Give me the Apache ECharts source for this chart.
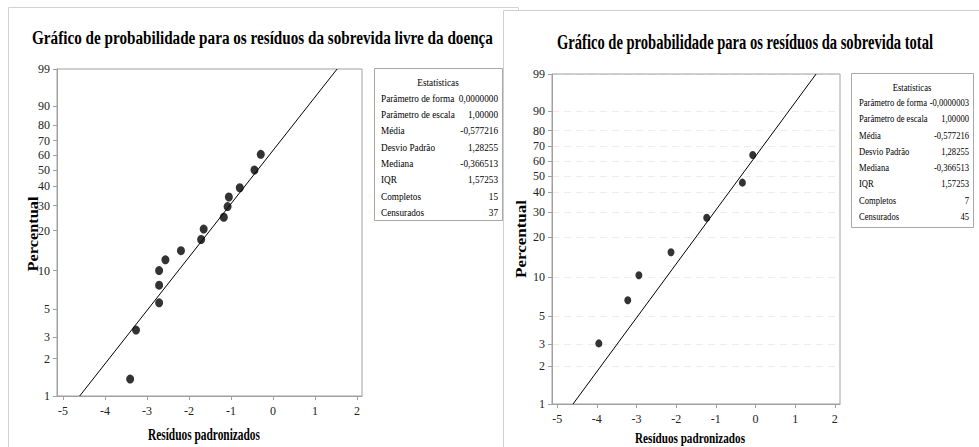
<!DOCTYPE html>
<html>
<head>
<meta charset="utf-8">
<script src="https://cdn.jsdelivr.net/npm/echarts@6/dist/echarts.min.js"></script>
<style>
  html, body { margin: 0; padding: 0; background: #ffffff; }
  #chart { width: 979px; height: 447px; }
</style>
</head>
<body>
<div id="chart"></div>
<script>
// Standardized residuals and their plotting positions (percent), disease-free survival
var dfsResiduals = [-3.40, -3.26, -2.71, -2.71, -2.71, -2.56, -2.19, -1.71, -1.65, -1.17, -1.08, -1.05, -0.79, -0.44, -0.29];
var dfsPercent   = [1.37, 3.4, 5.6, 7.7, 10.0, 12.1, 14.2, 17.2, 20.5, 24.9, 29.5, 34.2, 39.2, 50.0, 60.6];

// Standardized residuals and plotting positions (percent), overall survival
var osResiduals = [-3.95, -3.22, -2.94, -2.13, -1.23, -0.33, -0.07];
var osPercent   = [3.05, 6.66, 10.4, 15.5, 27.3, 45.8, 64.1];

// Probability-scale tick labels (percent) and residual axis ticks
var percentTicks = [1, 2, 3, 5, 10, 20, 30, 40, 50, 60, 70, 80, 90, 99];
var residualTicks = [-5, -4, -3, -2, -1, 0, 1, 2];

// Reference distribution: smallest extreme value, location 0, scale 1
var fitLocation = 0;
var fitScale = 1;
var fitRangePercent = [1, 99];

// Statistics tables
var statLabels = ['Parâmetro de forma', 'Parâmetro de escala', 'Média', 'Desvio Padrão', 'Mediana', 'IQR', 'Completos', 'Censurados'];
var dfsStatValues = ['0,0000000', '1,00000', '-0,577216', '1,28255', '-0,366513', '1,57253', '15', '37'];
var osStatValues  = ['-0,0000003', '1,00000', '-0,577216', '1,28255', '-0,366513', '1,57253', '7', '45'];

var dfsTitle = 'Gráfico de probabilidade para os resíduos da sobrevida livre da doença';
var osTitle = 'Gráfico de probabilidade para os resíduos da sobrevida total';

// ---- helpers ----
var SERIF = '"Liberation Serif", "Times New Roman", serif';

// probability (percent) -> smallest-extreme-value scale
function sev(pct) { return Math.log(-Math.log(1 - pct / 100)); }

var yMin = sev(fitRangePercent[0]);
var yMax = sev(fitRangePercent[1]);
var yTickValues = percentTicks.map(sev);

function pctLabel(v) {
  var best = 0, bd = Infinity;
  for (var i = 0; i < yTickValues.length; i++) {
    var d = Math.abs(yTickValues[i] - v);
    if (d < bd) { bd = d; best = i; }
  }
  return String(percentTicks[best]);
}

var measureCtx = document.createElement('canvas').getContext('2d');
function textWidth(str, size, bold) {
  measureCtx.font = (bold ? 'bold ' : '') + size + 'px ' + SERIF;
  return measureCtx.measureText(str).width;
}

// text element squeezed horizontally to a given width (the typeface is condensed)
function fitText(str, x, y, size, bold, width, opts) {
  opts = opts || {};
  var sx = width ? width / textWidth(str, size, bold) : (opts.scaleX || 1);
  return {
    type: 'text',
    x: x, y: y,
    rotation: opts.rotation || 0,
    scaleX: sx,
    z: 10,
    style: {
      text: str,
      font: (bold ? 'bold ' : '') + size + 'px ' + SERIF,
      fill: opts.color || '#000000',
      align: opts.align || 'center',
      verticalAlign: 'middle'
    }
  };
}

function pairs(xs, ps) {
  return xs.map(function (x, i) { return [x, sev(ps[i])]; });
}

function fitLine() {
  return fitRangePercent.map(function (p) {
    var t = sev(p);
    return [fitLocation + fitScale * t, t];
  });
}

function statsBox(box, values, labelX, valueX, headerY, rowY, step, size, sx) {
  var els = [{
    type: 'rect', z: 5,
    shape: { x: box[0] + 0.5, y: box[1] + 0.5, width: box[2], height: box[3] },
    style: { fill: '#ffffff', stroke: '#a8a8a8', lineWidth: 1 }
  }];
  els.push(fitText('Estatísticas', box[0] + box[2] / 2, headerY, size, false, null, { scaleX: sx }));
  statLabels.forEach(function (lab, i) {
    var y = rowY + i * step;
    els.push(fitText(lab, labelX, y, size, false, null, { align: 'left', scaleX: sx }));
    els.push(fitText(values[i], valueX, y, size, false, null, { align: 'right', scaleX: sx }));
  });
  return els;
}

var axisGray = '#a0a0a0';

function xAxisCfg(gridIndex, min, max, margin) {
  return {
    gridIndex: gridIndex, type: 'value', min: min, max: max,
    axisLine: { show: true, onZero: false, lineStyle: { color: axisGray, width: 1 } },
    axisTick: { show: true, inside: false, length: 4, customValues: residualTicks, lineStyle: { color: axisGray } },
    axisLabel: { customValues: residualTicks, margin: margin, color: '#222', fontFamily: SERIF, fontSize: 12 },
    splitLine: { show: false }
  };
}

function yAxisCfg(gridIndex, grid) {
  return {
    gridIndex: gridIndex, type: 'value', min: yMin, max: yMax,
    axisLine: { show: true, onZero: false, lineStyle: { color: axisGray, width: 1 } },
    axisTick: { show: true, inside: false, length: 4, customValues: yTickValues, lineStyle: { color: axisGray } },
    axisLabel: { customValues: yTickValues, margin: 7, formatter: pctLabel, color: '#222', fontFamily: SERIF, fontSize: 12 },
    splitLine: grid ? { show: true, lineStyle: { color: '#ececec', type: [7, 5], width: 1 } } : { show: false }
  };
}

var chart = echarts.init(document.getElementById('chart'), null, { renderer: 'svg', width: 979, height: 447 });

var graphics = [
  // panel frames
  { type: 'rect', z: -20, shape: { x: 8.5, y: 7.5, width: 510, height: 460 }, style: { fill: '#ffffff', stroke: '#d2d2d2', lineWidth: 1 } },
  { type: 'rect', z: -10, shape: { x: 503.5, y: 10.5, width: 490, height: 460 }, style: { fill: '#ffffff', stroke: '#cfcfcf', lineWidth: 1 } },
  // titles
  fitText(dfsTitle, 262.5, 38, 19, true, 461),
  fitText(osTitle, 745, 42, 20, true, 376),
  // axis names
  fitText('Resíduos padronizados', 204, 435, 16, true, 112),
  fitText('Resíduos padronizados', 690, 438, 15, true, 110),
  fitText('Percentual', 33, 234, 15, true, 75, { rotation: Math.PI / 2 }),
  fitText('Percentual', 521, 239, 15, true, 78, { rotation: Math.PI / 2 })
];
graphics = graphics
  .concat(statsBox([374, 68, 128, 152], dfsStatValues, 381, 498, 82, 98, 16.3, 11, 0.84))
  .concat(statsBox([851, 73, 122, 154], osStatValues, 859, 969, 87, 102, 16.3, 11, 0.78));

chart.setOption({
  animation: false,
  backgroundColor: '#ffffff',
  graphic: { elements: graphics },
  grid: [
    { left: 57, top: 69, width: 305, height: 327, show: true, borderColor: axisGray, borderWidth: 1, backgroundColor: 'transparent', z: 2 },
    { left: 552, top: 74, width: 288, height: 330, show: true, borderColor: axisGray, borderWidth: 1, backgroundColor: 'transparent', z: 2 }
  ],
  xAxis: [xAxisCfg(0, -5.14, 2.12, 9), xAxisCfg(1, -5.13, 2.13, 9)],
  yAxis: [yAxisCfg(0, false), yAxisCfg(1, true)],
  series: [
    { type: 'line', xAxisIndex: 0, yAxisIndex: 0, data: fitLine(), symbol: 'none', lineStyle: { color: '#000', width: 1 }, z: 3 },
    { type: 'scatter', xAxisIndex: 0, yAxisIndex: 0, data: pairs(dfsResiduals, dfsPercent), symbol: 'circle', symbolSize: [8, 9], itemStyle: { color: '#000' }, z: 4 },
    { type: 'line', xAxisIndex: 1, yAxisIndex: 1, data: fitLine(), symbol: 'none', lineStyle: { color: '#000', width: 1 }, z: 3 },
    { type: 'scatter', xAxisIndex: 1, yAxisIndex: 1, data: pairs(osResiduals, osPercent), symbol: 'circle', symbolSize: [7, 8], itemStyle: { color: '#000' }, z: 4 }
  ]
});
</script>
</body>
</html>
